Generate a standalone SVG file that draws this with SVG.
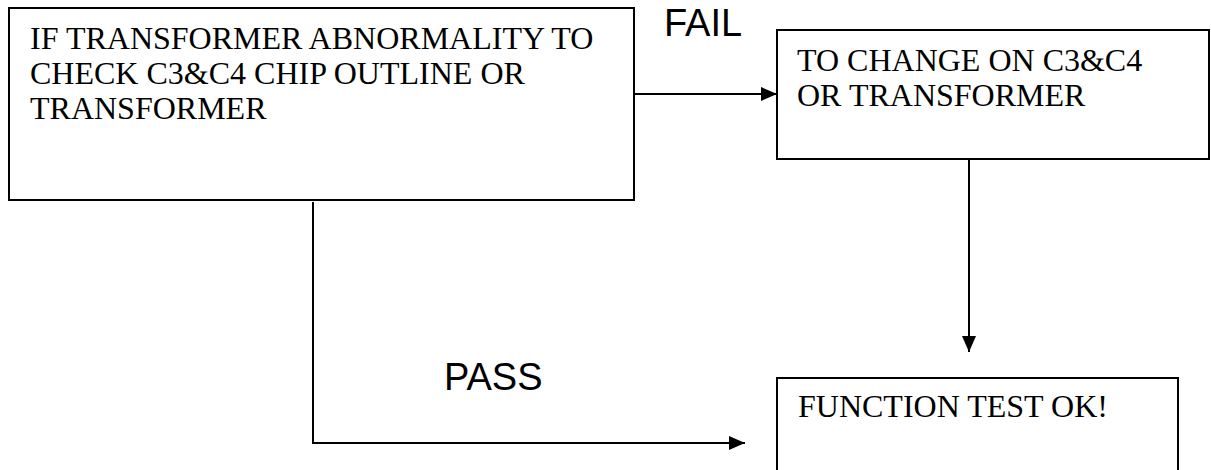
<svg xmlns="http://www.w3.org/2000/svg" width="1211" height="470" viewBox="0 0 1211 470">
  <style>
    .box { fill: #ffffff; stroke: #000000; stroke-width: 2; }
    .txt { font-family: "Liberation Serif", "Times New Roman", serif; font-size: 32px; fill: #000000; }
    .lbl { font-family: "Liberation Sans", Arial, sans-serif; font-size: 38px; fill: #000000; }
    .wire { fill: none; stroke: #000000; stroke-width: 2; }
  </style>
  <defs>
    <marker id="arrow" viewBox="0 0 16 14" refX="16" refY="7" markerWidth="16" markerHeight="14" markerUnits="userSpaceOnUse" orient="auto">
      <path d="M0,0 L16,7 L0,14 Z" fill="#000000"/>
    </marker>
  </defs>
  <rect width="1211" height="470" fill="#ffffff"/>

  <g id="connectors">
    <!-- FAIL branch: check box to change box -->
    <line class="wire" x1="634" y1="94" x2="777" y2="94" marker-end="url(#arrow)"/>
    <!-- change box down toward function test -->
    <line class="wire" x1="969" y1="160" x2="969" y2="352" marker-end="url(#arrow)"/>
    <!-- PASS branch: down then right -->
    <polyline class="wire" points="313,202 313,443 745,443" marker-end="url(#arrow)"/>
  </g>

  <g id="check">
    <rect class="box" x="9" y="8" width="625" height="192"/>
    <text class="txt" x="30" y="49">IF TRANSFORMER ABNORMALITY TO</text>
    <text class="txt" x="30" y="84">CHECK C3&amp;C4 CHIP OUTLINE OR</text>
    <text class="txt" x="30" y="119">TRANSFORMER</text>
  </g>

  <g id="change">
    <rect class="box" x="777" y="30" width="432" height="129"/>
    <text class="txt" x="797" y="71">TO CHANGE ON C3&amp;C4</text>
    <text class="txt" x="797" y="106">OR TRANSFORMER</text>
  </g>

  <g id="function-test">
    <rect class="box" x="777" y="378" width="401" height="110"/>
    <text class="txt" x="798" y="417">FUNCTION TEST OK!</text>
  </g>

  <g id="labels">
    <text class="lbl" x="664" y="36">FAIL</text>
    <text class="lbl" x="444" y="390">PASS</text>
  </g>
</svg>
